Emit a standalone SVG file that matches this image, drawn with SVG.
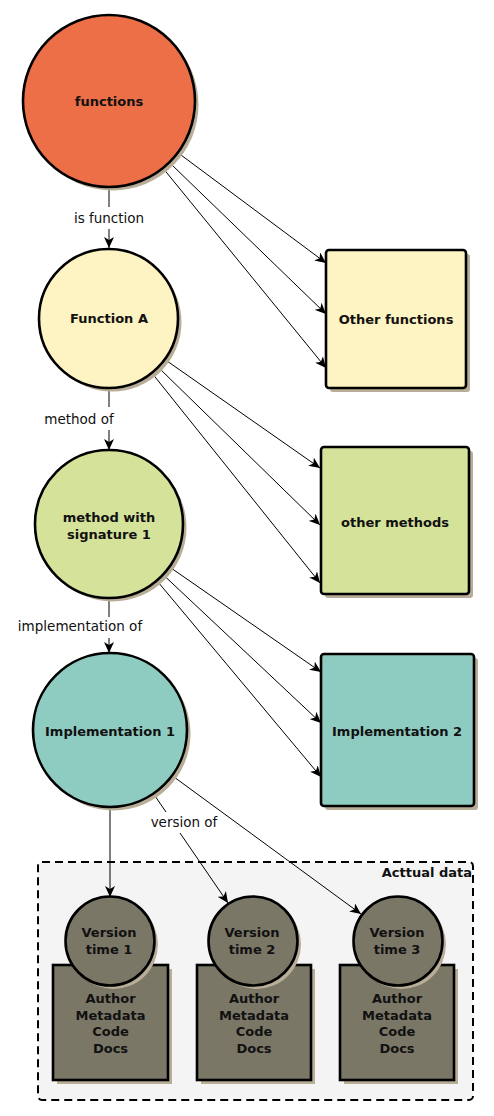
<svg xmlns="http://www.w3.org/2000/svg" width="494" height="1116" viewBox="0 0 494 1116">
<style>
.node{stroke:#000;stroke-width:2.6}
.sh{fill:#b8ad96}
.t{font-family:"DejaVu Sans","Liberation Sans",sans-serif;font-weight:bold;font-size:13px;text-anchor:middle;fill:#111}
.lbl{font-family:"DejaVu Sans","Liberation Sans",sans-serif;font-size:13.5px;text-anchor:middle;fill:#111}
.e{stroke:#000;stroke-width:1;fill:none}
.ea{stroke:#000;stroke-width:1;fill:none;marker-end:url(#arr)}
</style>
<defs>
<marker id="arr" markerUnits="userSpaceOnUse" markerWidth="12" markerHeight="10" refX="11" refY="5" orient="auto">
<path d="M0,0 L11,5 L0,10 L3,5 z" fill="#000"/>
</marker>
</defs>
<rect width="494" height="1116" fill="#fff"/>

<g id="group-actual-data">
<rect x="38" y="862" width="435" height="238" rx="4" fill="#f4f4f4" stroke="#000" stroke-width="2" stroke-dasharray="8,5"/>
<text class="t" x="472" y="877" style="text-anchor:end">Acttual data</text>
</g>

<g id="connectors">
<line class="e" x1="109" y1="188" x2="109" y2="207"/>
<line class="ea" x1="109" y1="229" x2="109" y2="248"/>
<line class="e" x1="109" y1="389" x2="109" y2="407"/>
<line class="ea" x1="109" y1="430" x2="109" y2="450"/>
<line class="e" x1="109" y1="599" x2="109" y2="617"/>
<line class="ea" x1="109" y1="638" x2="109" y2="653"/>
<line class="ea" x1="110" y1="808" x2="110" y2="897"/>
<line class="e" x1="155" y1="796" x2="166" y2="812"/>
<line class="ea" x1="180" y1="833" x2="228" y2="903"/>
<line class="ea" x1="174" y1="777" x2="361" y2="914"/>
<line class="ea" x1="181" y1="155" x2="326" y2="263"/>
<line class="ea" x1="172" y1="165" x2="326" y2="314"/>
<line class="ea" x1="164.5" y1="170" x2="326" y2="368"/>
<line class="ea" x1="167" y1="361" x2="320" y2="468"/>
<line class="ea" x1="160" y1="369" x2="320" y2="525"/>
<line class="ea" x1="153.5" y1="375" x2="320" y2="583"/>
<line class="ea" x1="171" y1="568" x2="321" y2="672"/>
<line class="ea" x1="164.5" y1="576" x2="321" y2="723"/>
<line class="ea" x1="158" y1="582" x2="321" y2="777"/>
<text class="lbl" x="109" y="223">is function</text>
<text class="lbl" x="79" y="424">method of</text>
<text class="lbl" x="80" y="631">implementation of</text>
<text class="lbl" x="184" y="827">version of</text>
</g>

<g id="functions">
<circle class="sh" cx="112.5" cy="104.5" r="86"/>
<circle class="node" cx="109" cy="101" r="86" fill="#ec6f47"/>
<text class="t" x="109" y="106">functions</text>
</g>

<g id="function-a">
<circle class="sh" cx="112" cy="322" r="69.5"/>
<circle class="node" cx="108.5" cy="318.5" r="69.5" fill="#fef3c2"/>
<text class="t" x="109" y="323">Function A</text>
</g>

<g id="other-functions">
<rect class="sh" x="330" y="254" width="140" height="138" rx="3"/>
<rect class="node" x="326" y="250" width="140" height="138" rx="3" fill="#fef3c2"/>
<text class="t" x="396" y="324">Other functions</text>
</g>

<g id="method-with-signature-1">
<circle class="sh" cx="112.5" cy="527.5" r="74"/>
<circle class="node" cx="109" cy="524" r="74" fill="#d4e29a"/>
<text class="t" x="109" y="522">method with</text>
<text class="t" x="109" y="539">signature 1</text>
</g>

<g id="other-methods">
<rect class="sh" x="325" y="451" width="148" height="147" rx="3"/>
<rect class="node" x="321" y="447" width="148" height="147" rx="3" fill="#d4e29a"/>
<text class="t" x="395" y="527">other methods</text>
</g>

<g id="implementation-1">
<circle class="sh" cx="113.5" cy="733.5" r="77"/>
<circle class="node" cx="110" cy="730" r="77" fill="#8ecbc0"/>
<text class="t" x="110" y="736">Implementation 1</text>
</g>

<g id="implementation-2">
<rect class="sh" x="325" y="658" width="153" height="152" rx="3"/>
<rect class="node" x="321" y="654" width="153" height="152" rx="3" fill="#8ecbc0"/>
<text class="t" x="397" y="736">Implementation 2</text>
</g>

<g id="version-1-data">
<rect class="sh" x="57" y="969" width="115" height="115"/>
<rect class="node" x="53" y="965" width="115" height="115" fill="#7b7767"/>
<text class="t" x="110.5" y="1003">Author</text>
<text class="t" x="110.5" y="1020">Metadata</text>
<text class="t" x="110.5" y="1036">Code</text>
<text class="t" x="110.5" y="1053">Docs</text>
</g>
<g id="version-2-data">
<rect class="sh" x="201" y="969" width="114" height="115"/>
<rect class="node" x="197" y="965" width="114" height="115" fill="#7b7767"/>
<text class="t" x="254" y="1003">Author</text>
<text class="t" x="254" y="1020">Metadata</text>
<text class="t" x="254" y="1036">Code</text>
<text class="t" x="254" y="1053">Docs</text>
</g>
<g id="version-3-data">
<rect class="sh" x="344" y="969" width="114" height="115"/>
<rect class="node" x="340" y="965" width="114" height="115" fill="#7b7767"/>
<text class="t" x="397" y="1003">Author</text>
<text class="t" x="397" y="1020">Metadata</text>
<text class="t" x="397" y="1036">Code</text>
<text class="t" x="397" y="1053">Docs</text>
</g>

<g id="version-time-1">
<circle class="sh" cx="113.5" cy="944.5" r="44.5"/>
<circle class="node" cx="110" cy="941" r="44.5" fill="#7b7767"/>
<text class="t" x="109" y="937">Version</text>
<text class="t" x="109" y="954">time 1</text>
</g>
<g id="version-time-2">
<circle class="sh" cx="256.5" cy="944.5" r="44.5"/>
<circle class="node" cx="253" cy="941" r="44.5" fill="#7b7767"/>
<text class="t" x="252" y="937">Version</text>
<text class="t" x="252" y="954">time 2</text>
</g>
<g id="version-time-3">
<circle class="sh" cx="401.5" cy="944.5" r="44.5"/>
<circle class="node" cx="398" cy="941" r="44.5" fill="#7b7767"/>
<text class="t" x="397" y="937">Version</text>
<text class="t" x="397" y="954">time 3</text>
</g>
</svg>
